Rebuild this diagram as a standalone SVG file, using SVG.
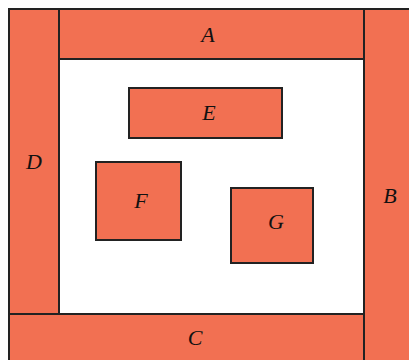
<svg xmlns="http://www.w3.org/2000/svg" width="409" height="360" viewBox="0 0 409 360">
<style>
.r{fill:#f27052;stroke:#222;stroke-width:2}
.t{font-family:"Liberation Serif",serif;font-style:italic;font-size:22px;fill:#111;text-anchor:middle;dominant-baseline:central}
</style>
<rect width="409" height="360" fill="#fff"/>
<g id="D"><rect class="r" x="9" y="9" width="50" height="305"/><text class="t" x="34" y="161">D</text></g>
<g id="A"><rect class="r" x="59" y="9" width="305" height="50"/><text class="t" x="208" y="34">A</text></g>
<g id="B"><rect class="r" x="364" y="9" width="47" height="353"/><text class="t" x="390" y="195">B</text></g>
<g id="C"><rect class="r" x="9" y="314" width="355" height="48"/><text class="t" x="195" y="337">C</text></g>
<g id="E"><rect class="r" x="129" y="88" width="153" height="50"/><text class="t" x="209" y="112">E</text></g>
<g id="F"><rect class="r" x="96" y="162" width="85" height="78"/><text class="t" x="141" y="200">F</text></g>
<g id="G"><rect class="r" x="231" y="188" width="82" height="75"/><text class="t" x="276" y="221">G</text></g>
<g id="connectors"/>
</svg>
